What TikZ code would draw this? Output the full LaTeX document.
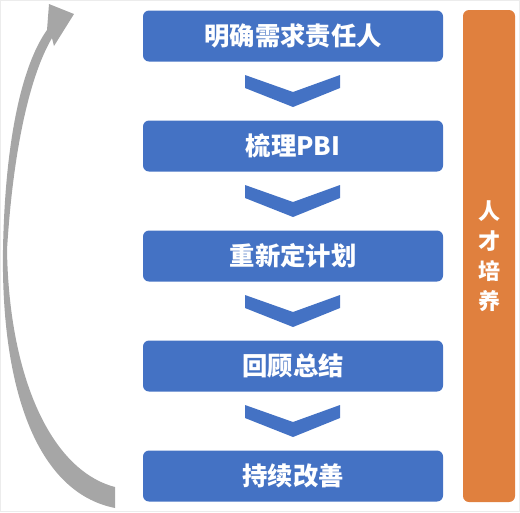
\documentclass[tikz,border=0pt]{standalone}
\usepackage{fontspec}
\setmainfont{Noto Sans CJK SC}
\usepackage{tikz}
\usetikzlibrary{calc}

\definecolor{stepblue}{RGB}{68,114,196}
\definecolor{talentorange}{RGB}{224,128,62}
\definecolor{loopgray}{RGB}{166,166,166}

\tikzset{
  stepbox/.style={fill=stepblue, text=white, rounded corners=4.5pt, minimum width=225pt, minimum height=38.25pt, inner sep=0pt, font=\fontsize{19}{22}\selectfont\bfseries},
  chev/.style={fill=stepblue},
  talentbar/.style={fill=talentorange, text=white, rounded corners=4.5pt, minimum width=39pt, minimum height=369pt, inner sep=0pt, align=center, font=\fontsize{16.5}{22.5}\selectfont\bfseries}
}

\begin{document}
\begin{tikzpicture}[x=0.75pt,y=0.75pt,yscale=-1,xscale=1]
\useasboundingbox (0,0) rectangle (520,512);
%faint frame
\draw [gray!15, line width=0.5pt] (0.5,0.5) rectangle (519.5,511.5);

%Steps
\node [stepbox] (owner) at (293,36) {明确需求责任人};
\node [stepbox] (pbi) at (293,146) {梳理PBI};
\node [stepbox] (replan) at (293,256) {重新定计划};
\node [stepbox] (retro) at (293,366) {回顾总结};
\node [stepbox] (improve) at (293,476) {持续改善};

%Chevrons between steps
\foreach \a/\b in {owner/pbi, pbi/replan, replan/retro, retro/improve}
  \fill [chev] ($(\a.south)!0.5!(\b.north)$) ++(-48,-16) -- ++(48,17) -- ++(47,-17) -- ++(0,13) -- ++(-47,19) -- ++(-48,-19) -- cycle;

%Side bar
\node [talentbar] (talent) at (489,256) {人\\才\\培\\养};

%Shape: curved loop arrow
\fill [loopgray] (115,508) .. controls (35,492) and (1,385) .. (3,250) .. controls (5,140) and (22,65) .. (47,30) -- (49,4) -- (74,14) -- (54,46) -- (52,38) .. controls (30,75) and (13,150) .. (7,250) .. controls (9,375) and (50,470) .. (115,487) -- cycle;

\end{tikzpicture}
\end{document}
